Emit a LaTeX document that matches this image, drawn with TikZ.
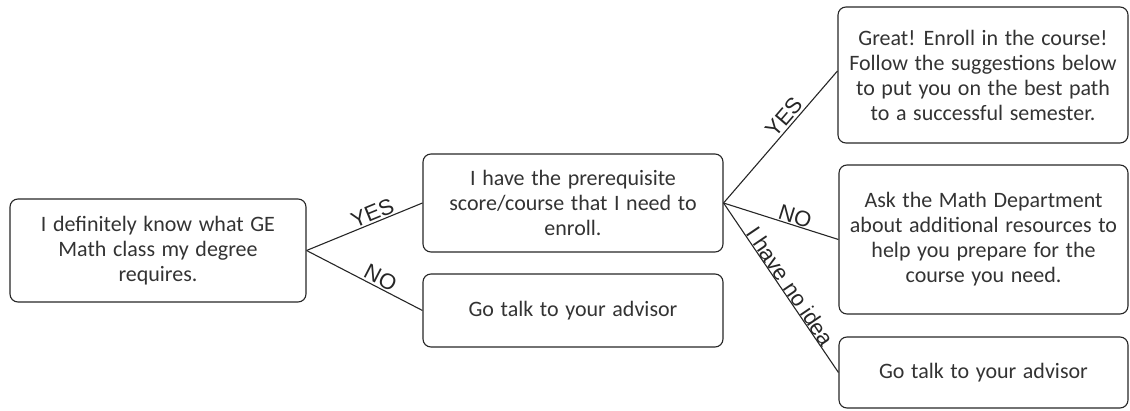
\documentclass[tikz,border=0pt]{standalone}
\usepackage{fontspec}
\setmainfont{Carlito}
\newfontfamily\lblfont{Liberation Sans}
\newcommand\boxfont{\fontsize{22}{25}\selectfont\spaceskip=0.3em\relax}
\begin{document}
\begin{tikzpicture}[x=1pt,y=1pt,
  box/.style={draw=black!85, line width=1.1pt, rounded corners=8pt, align=center,
    inner sep=0pt, font=\boxfont, text=black!80},
  link/.style={draw=black!85, line width=1.1pt},
  lbl/.style={sloped, above, inner sep=1.5pt, font=\lblfont\fontsize{22}{26}\selectfont, text=black!85}]
\useasboundingbox (0,0) rectangle (1130,410);
\node[box, minimum width=296pt, minimum height=103pt] (A) at (158,159.5)
  {I definitely know what GE\\Math class my degree\\requires.};
\node[box, minimum width=300pt, minimum height=98pt] (B) at (573,207)
  {I have the prerequisite\\score/course that I need to\\enroll.};
\node[box, minimum width=300pt, minimum height=73pt] (C) at (573,99.5)
  {Go talk to your advisor};
\node[box, minimum width=290pt, minimum height=136pt] (D) at (983,335)
  {Great! Enroll in the course!\\Follow the suggestions below\\to put you on the best path\\to a successful semester.};
\node[box, minimum width=289pt, minimum height=149pt] (E) at (983.5,170.5)
  {Ask the Math Department\\about additional resources to\\help you prepare for the\\course you need.};
\node[box, minimum width=289pt, minimum height=71pt] (F) at (983.5,37.5)
  {Go talk to your advisor};
\draw[link] (A.east) -- node[lbl, pos=0.6] {YES} (B.west);
\draw[link] (A.east) -- node[lbl, pos=0.6] {NO} (C.west);
\draw[link] (B.east) -- node[lbl, pos=0.6] {YES} ([yshift=4pt]D.west);
\draw[link] (B.east) -- node[lbl, pos=0.6, inner sep=0.5pt] {NO} (E.west);
\draw[link] (B.east) -- node[lbl, pos=0.52, inner sep=0pt] {I have no idea} (F.west);
\end{tikzpicture}
\end{document}
